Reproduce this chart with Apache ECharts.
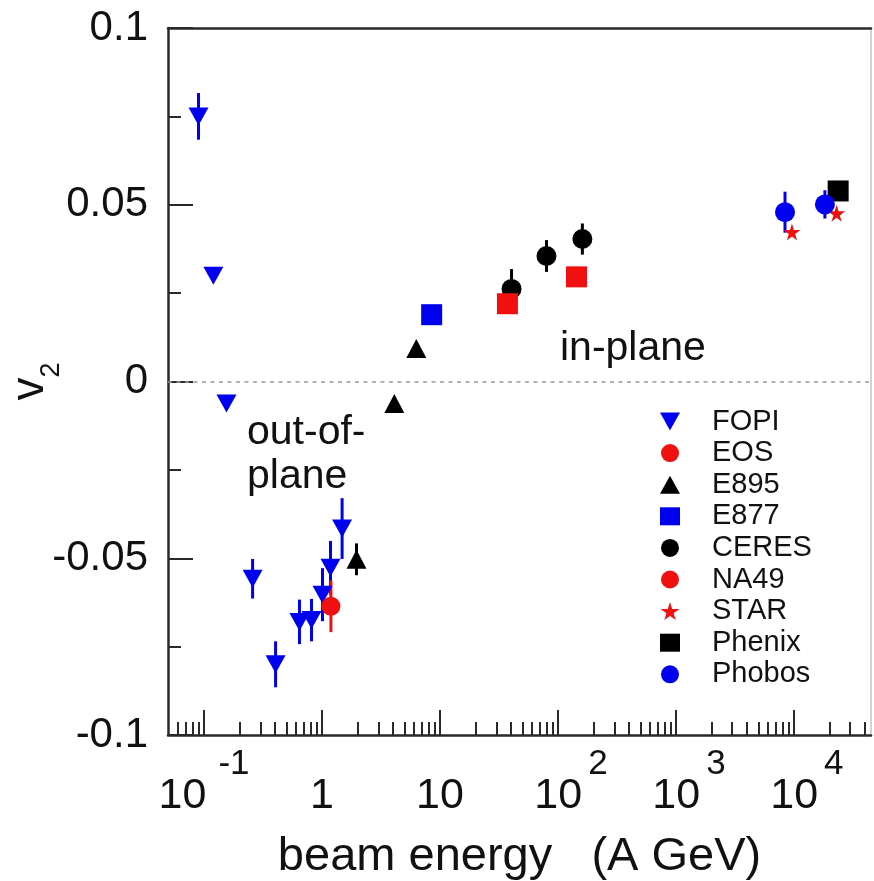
<!DOCTYPE html>
<html><head><meta charset="utf-8">
<script src="https://cdn.jsdelivr.net/npm/echarts@6/dist/echarts.min.js"></script>
<style>html,body{margin:0;padding:0;background:#fff}#c{width:874px;height:881px}</style>
</head><body><div id="c"></div>
<script>
const FONT = '"Liberation Sans", Arial, Helvetica, sans-serif';

// ---- data (beam energy in A GeV, v2) ----
const fopiE   = [0.0898, 0.12, 0.155, 0.258, 0.404, 0.644, 0.815, 1.01, 1.18, 1.48];
const fopiV   = [0.075, 0.0299, -0.0062, -0.0558, -0.0800, -0.0680, -0.0675, -0.0603, -0.0527, -0.0416];
const fopiErr = [0.0066, 0, 0, 0.0056, 0.0065, 0.0063, 0.006, 0.0075, 0.0076, 0.0086];

const eosE = [1.19];
const eosV = [-0.0636];
const eosErr = [0.0073];

const e895E = [1.96, 4.1, 6.3];
const e895V = [-0.0503, -0.0062, 0.0093];
const e895Err = [0.0045, 0, 0];

const e877E = [8.5];
const e877V = [0.0189];

const ceresE = [40.4, 79.9, 161];
const ceresV = [0.0262, 0.0355, 0.0403];
const ceresErr = [0.0056, 0.0045, 0.0044];

const na49E = [37.3, 143.5];
const na49V = [0.0220, 0.0296];

const starE = [9620, 23000];
const starV = [0.0423, 0.0476];

const phenixE = [23700];
const phenixV = [0.0539];

const phobosE = [8400, 18300];
const phobosV = [0.0479, 0.0501];
const phobosErr = [0.0058, 0.004];

// ---- axis ticks / labels ----
const xMajorTicks = [0.1, 1, 10, 100, 1000, 10000];
const xTickBase   = ['10', '1', '10', '10', '10', '10'];
const xTickExp    = ['-1', '', '', '2', '3', '4'];
const xMinorTicks = [0.06, 0.07, 0.08, 0.09,
  0.2, 0.3, 0.4, 0.5, 0.6, 0.7, 0.8, 0.9,
  2, 3, 4, 5, 6, 7, 8, 9,
  20, 30, 40, 50, 60, 70, 80, 90,
  200, 300, 400, 500, 600, 700, 800, 900,
  2000, 3000, 4000, 5000, 6000, 7000, 8000, 9000,
  20000, 30000, 40000];
const xMin = 0.0495, xMax = 45000;
const yMin = -0.1, yMax = 0.1, yStep = 0.05;

const BLUE = '#0000f0', RED = '#f01010', BLACK = '#000000';
const STAR = 'path://M50,0 L61,35 L98,35 L68,57 L79,91 L50,70 L21,91 L32,57 L2,35 L39,35 Z';
const DOWN_TRIANGLE = 'path://M0,0 L20,0 L10,18 Z';

function pts(xs, ys) { return xs.map((x, i) => [x, ys[i]]); }
function errs(xs, ys, es, color) {
  return xs.map((x, i) => ({ value: [x, ys[i], es[i]], itemStyle: { color } })).filter(d => d.value[2] > 0);
}
const errorData = [].concat(
  errs(fopiE, fopiV, fopiErr, BLUE),
  errs(eosE, eosV, eosErr, RED),
  errs(e895E, e895V, e895Err, BLACK),
  errs(ceresE, ceresV, ceresErr, BLACK),
  errs(phobosE, phobosV, phobosErr, BLUE)
);

function xLabel(value) {
  let i = xMajorTicks.findIndex(t => Math.abs(Math.log10(t) - Math.log10(value)) < 1e-6);
  if (i < 0) return '';
  const b = xTickBase[i], e = xTickExp[i];
  if (!e) return '{b|' + b + '}';
  if (e === '-1') return '{b|' + b + '}{m|' + e + '}';
  return '{sp| }{b|' + b + '}{e|' + e + '}';
}

const chart = echarts.init(document.getElementById('c'), null, { renderer: 'canvas' });
const axisDark = { color: '#2a2a2a', width: 2.5 };

const scatterBase = { type: 'scatter', xAxisIndex: 0, yAxisIndex: 0, z: 5 };

chart.setOption({
  animation: false,
  backgroundColor: '#ffffff',
  textStyle: { fontFamily: FONT },
  grid: { left: 168, right: 3, top: 28, bottom: 146, containLabel: false, outerBoundsMode: 'none', show: false },
  xAxis: [
    {
      type: 'log', logBase: 10, min: xMin, max: xMax, position: 'bottom',
      axisLine: { show: true, onZero: false, lineStyle: axisDark },
      axisTick: { show: true, inside: true, length: 25, customValues: xMajorTicks, lineStyle: { color: '#2a2a2a', width: 2 } },
      minorTick: { show: false },
      splitLine: { show: false },
      axisLabel: {
        show: true, customValues: xMajorTicks, margin: 12,
        formatter: xLabel,
        rich: {
          b: { fontSize: 43, lineHeight: 71, verticalAlign: 'bottom', color: '#111', fontFamily: FONT },
          e: { fontSize: 35, verticalAlign: 'top', color: '#111', fontFamily: FONT, padding: [0, 0, 0, 6] },
          m: { fontSize: 35, verticalAlign: 'top', color: '#111', fontFamily: FONT, padding: [0, 0, 0, 12] },
          sp: { width: 26, fontSize: 35 }
        }
      },
      name: 'beam energy   (A GeV)', nameLocation: 'middle', nameGap: 99, nameMoveOverlap: false,
      nameTextStyle: { fontSize: 47, color: '#111', fontFamily: FONT }
    },
    {
      type: 'log', logBase: 10, min: xMin, max: xMax, position: 'bottom',
      axisLine: { show: false, onZero: false },
      axisTick: { show: true, inside: true, length: 13, customValues: xMinorTicks, lineStyle: { color: '#2a2a2a', width: 2 } },
      axisLabel: { show: false },
      splitLine: { show: false }
    },
    {
      type: 'log', logBase: 10, min: xMin, max: xMax, position: 'top',
      axisLine: { show: true, onZero: false, lineStyle: axisDark },
      axisTick: { show: false }, axisLabel: { show: false }, splitLine: { show: false }
    }
  ],
  yAxis: [
    {
      type: 'value', min: yMin, max: yMax, interval: yStep, position: 'left',
      axisLine: { show: true, onZero: false, lineStyle: axisDark },
      axisTick: { show: true, inside: true, length: 25, lineStyle: { color: '#2a2a2a', width: 2 } },
      minorTick: { show: true, splitNumber: 2, length: 13, lineStyle: { color: '#2a2a2a', width: 2 } },
      splitLine: { show: false }, minorSplitLine: { show: false },
      axisLabel: { show: true, margin: 20, fontSize: 42, color: '#111', fontFamily: FONT },
      name: '{v|v}{s|2}', nameLocation: 'middle', nameGap: 103, nameMoveOverlap: false,
      nameTextStyle: {
        rich: {
          v: { fontSize: 46, verticalAlign: 'top', color: '#111', fontFamily: FONT },
          s: { fontSize: 27, lineHeight: 58, verticalAlign: 'bottom', color: '#111', fontFamily: FONT }
        }
      }
    },
    {
      type: 'value', min: yMin, max: yMax, interval: yStep, position: 'right',
      axisLine: { show: true, onZero: false, lineStyle: { color: '#c4c4c4', width: 1.5 } },
      axisTick: { show: false }, axisLabel: { show: false }, splitLine: { show: false }
    }
  ],
  legend: {
    orient: 'vertical', left: 655, top: 402,
    itemWidth: 20, itemHeight: 18, itemGap: 2.6,
    formatter: function (name) { return '{t|' + name + '}'; },
    textStyle: {
      fontSize: 29, lineHeight: 29, color: '#111', fontFamily: FONT,
      rich: { t: { fontSize: 29, lineHeight: 29, color: '#111', fontFamily: FONT, padding: [0, 0, 0, 27] } }
    },
    data: [
      { name: 'FOPI', icon: DOWN_TRIANGLE }, { name: 'EOS' }, { name: 'E895' }, { name: 'E877' }, { name: 'CERES' },
      { name: 'NA49', icon: 'circle' }, { name: 'STAR' }, { name: 'Phenix' }, { name: 'Phobos' }
    ],
    selectedMode: false
  },
  graphic: [
    { type: 'text', x: 560, y: 349, style: { text: 'in-plane', font: '41px ' + FONT, fill: '#111', verticalAlign: 'middle' } },
    { type: 'text', x: 247, y: 433, style: { text: 'out-of-', font: '41px ' + FONT, fill: '#111', verticalAlign: 'middle' } },
    { type: 'text', x: 247, y: 477, style: { text: 'plane', font: '41px ' + FONT, fill: '#111', verticalAlign: 'middle' } }
  ],
  series: [
    {
      type: 'custom', name: 'errors', xAxisIndex: 0, yAxisIndex: 0, z: 3,
      encode: { x: 0, y: 1 },
      data: errorData,
      renderItem: function (params, api) {
        const x = api.value(0), y = api.value(1), e = api.value(2);
        const p1 = api.coord([x, y + e]), p2 = api.coord([x, y - e]);
        return { type: 'line', shape: { x1: p1[0], y1: p1[1], x2: p2[0], y2: p2[1] },
                 style: { stroke: api.visual('color'), lineWidth: 3 } };
      },
      markLine: {
        silent: true, symbol: ['none', 'none'], label: { show: false },
        lineStyle: { type: [4, 4.5], color: '#9a9a9a', width: 1.5 },
        data: [{ yAxis: 0 }]
      }
    },
    Object.assign({}, scatterBase, { name: 'FOPI', data: pts(fopiE, fopiV), symbol: 'triangle', symbolRotate: 180, symbolSize: [20, 18], itemStyle: { color: BLUE, opacity: 1 } }),
    Object.assign({}, scatterBase, { name: 'EOS', data: pts(eosE, eosV), symbol: 'circle', symbolSize: 19, itemStyle: { color: RED, opacity: 1 } }),
    Object.assign({}, scatterBase, { name: 'E895', data: pts(e895E, e895V), symbol: 'triangle', symbolSize: [20, 19], itemStyle: { color: BLACK, opacity: 1 } }),
    Object.assign({}, scatterBase, { name: 'E877', data: pts(e877E, e877V), symbol: 'rect', symbolSize: 21, itemStyle: { color: BLUE, opacity: 1 } }),
    Object.assign({}, scatterBase, { name: 'CERES', data: pts(ceresE, ceresV), symbol: 'circle', symbolSize: 20, itemStyle: { color: BLACK, opacity: 1 } }),
    Object.assign({}, scatterBase, { name: 'NA49', data: pts(na49E, na49V), symbol: 'rect', symbolSize: 21, itemStyle: { color: RED, opacity: 1 } }),
    Object.assign({}, scatterBase, { name: 'STAR', data: pts(starE, starV), symbol: STAR, symbolSize: 17, itemStyle: { color: RED, opacity: 1 } }),
    Object.assign({}, scatterBase, { name: 'Phenix', data: pts(phenixE, phenixV), symbol: 'rect', symbolSize: 21, itemStyle: { color: BLACK, opacity: 1 } }),
    Object.assign({}, scatterBase, { name: 'Phobos', data: pts(phobosE, phobosV), symbol: 'circle', symbolSize: 20, itemStyle: { color: BLUE, opacity: 1 } })
  ]
});
</script></body></html>
